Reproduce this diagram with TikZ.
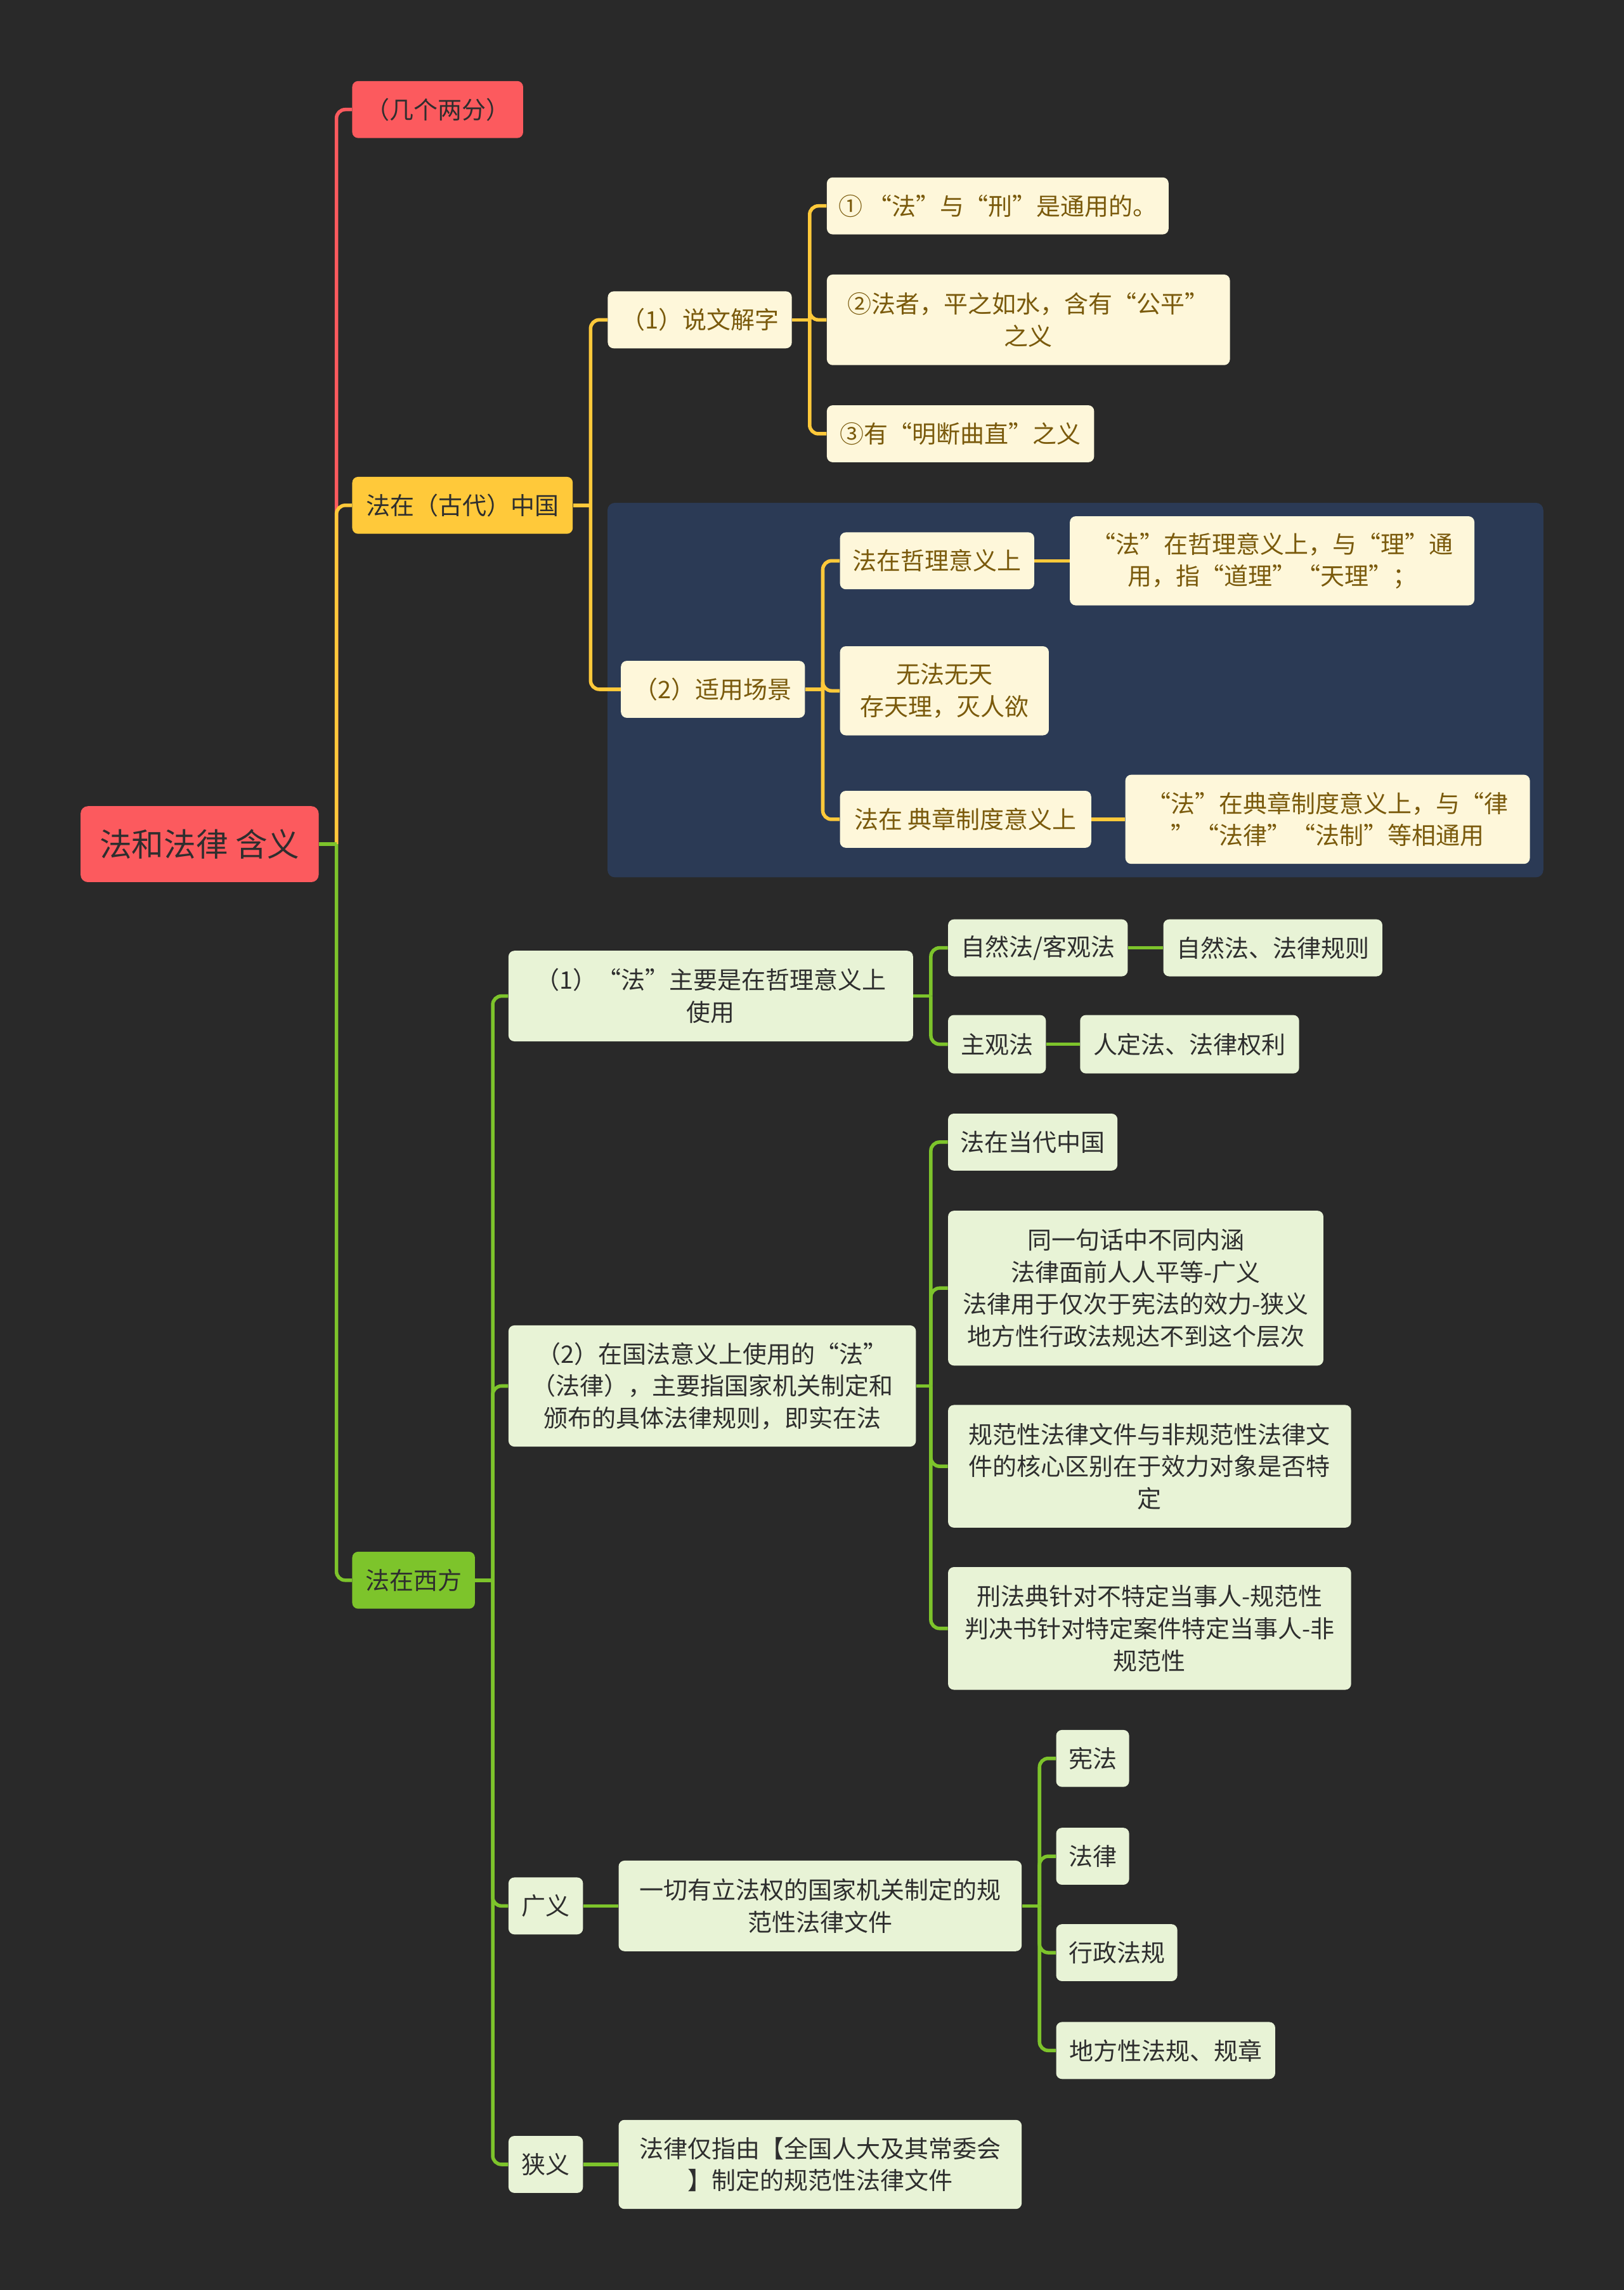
\documentclass[tikz,border=0pt]{standalone}
\usepackage{fontspec}
\setmainfont{Noto Sans CJK SC}
\usepackage{xcolor}
\usepackage{tikz}
\usetikzlibrary{%
  positioning,
  fit,
  backgrounds}
\definecolor{bgdark}{HTML}{292929}
\definecolor{rootred}{HTML}{FC5A5E}
\definecolor{gold}{HTML}{FFC93A}
\definecolor{leafgreen}{HTML}{7DC42B}
\definecolor{cream}{HTML}{FEF7DA}
\definecolor{creamtext}{HTML}{7A5A0C}
\definecolor{mint}{HTML}{E8F3D6}
\definecolor{navy}{HTML}{2B3A55}
\definecolor{inkdark}{HTML}{2E2E2E}
\tikzset{
  %% Central topic
  rootbox/.style={
    rectangle, rounded corners=5pt,
    fill=rootred, text=inkdark,
    align=center, anchor=west, inner sep=0pt,
    minimum height=52pt, font=\fontsize{22}{27}\selectfont},
  %% Main branch boxes
  topicbox/.style={
    rectangle, rounded corners=4pt,
    text=inkdark, align=center, anchor=west, inner sep=0pt,
    minimum height=39pt, font=\fontsize{16.5}{22}\selectfont},
  %% Ancient-China subtopics
  creambox/.style={topicbox, fill=cream, text=creamtext},
  %% Western subtopics
  mintbox/.style={topicbox, fill=mint, text=inkdark},
  %% Highlighted summary zone
  zone/.style={rectangle, rounded corners=5pt, fill=navy, inner sep=9pt},
  %% Connectors
  link/.style={line width=2.4pt, rounded corners=6pt},
}
\begin{document}
\begin{tikzpicture}[x=1pt, y=-1pt]

  \begin{scope}[on background layer]
    \fill[bgdark] (0,0) rectangle (1112,1568);
  \end{scope}
  \useasboundingbox (0,0) rectangle (1112,1568);

  \node[rootbox, minimum width=163pt] (root) at (55,578) {法和法律 含义};

  \node[topicbox, fill=rootred, minimum width=117pt] (jgl) at (241,75) {（几个两分）};
  \node[topicbox, fill=gold, minimum width=151pt] (gdzg) at (241,346) {法在（古代）中国};
  \node[topicbox, fill=leafgreen, minimum width=84pt] (xf) at (241,1082) {法在西方};

  %% Ancient China
  \node[creambox, minimum width=126pt] (swjz) at (416,219) {（1）说文解字};
  \node[creambox, minimum width=126pt] (sycj) at (425,472) {（2）适用场景};

  \node[creambox, minimum width=234pt] (yi) at (566,141) {① “法”与“刑”是通用的。};
  \node[creambox, minimum width=276pt, minimum height=62pt] (er) at (566,219)
        {②法者，平之如水，含有“公平”\\之义};
  \node[creambox, minimum width=183pt] (san) at (566,297) {③有“明断曲直”之义};

  \node[creambox, minimum width=133pt] (zl) at (575,384) {法在哲理意义上};
  \node[creambox, minimum width=277pt, minimum height=61pt, right=24pt of zl] (zld)
        {“法”在哲理意义上，与“理”通\\用，指“道理”“天理”；};
  \node[creambox, minimum width=143pt, minimum height=61pt] (wfwt) at (575,473)
        {无法无天\\存天理，灭人欲};
  \node[creambox, minimum width=172pt] (dz) at (575,561) {法在 典章制度意义上};
  \node[creambox, minimum width=277pt, minimum height=61pt, right=23pt of dz] (dzd)
        {“法”在典章制度意义上，与“律\\”“法律”“法制”等相通用};

  %% West
  \node[mintbox, minimum width=277pt, minimum height=62pt] (zx) at (348,682)
        {（1）“法”主要是在哲理意义上\\使用};
  \node[mintbox, minimum width=279pt, minimum height=83pt] (gf) at (348,949)
        {（2）在国法意义上使用的“法”\\（法律），主要指国家机关制定和\\颁布的具体法律规则，即实在法};
  \node[mintbox, minimum width=51pt] (gy) at (348,1305) {广义};
  \node[mintbox, minimum width=51pt] (xy) at (348,1482) {狭义};

  \node[mintbox, minimum width=123pt] (zrf) at (649,649) {自然法/客观法};
  \node[mintbox, minimum width=150pt, right=24pt of zrf] (zrfd) {自然法、法律规则};
  \node[mintbox, minimum width=67pt, minimum height=40pt] (zgf) at (649,715) {主观法};
  \node[mintbox, minimum width=150pt, minimum height=40pt, right=23pt of zgf] (zgfd)
        {人定法、法律权利};

  \node[mintbox, minimum width=116pt] (ddzg) at (649,782) {法在当代中国};
  \node[mintbox, minimum width=257pt, minimum height=106pt] (tyjh) at (649,882)
        {同一句话中不同内涵\\法律面前人人平等-广义\\法律用于仅次于宪法的效力-狭义\\地方性行政法规达不到这个层次};
  \node[mintbox, minimum width=276pt, minimum height=84pt] (gfx) at (649,1004)
        {规范性法律文件与非规范性法律文\\件的核心区别在于效力对象是否特\\定};
  \node[mintbox, minimum width=276pt, minimum height=84pt] (xfd) at (649,1115)
        {刑法典针对不特定当事人-规范性\\判决书针对特定案件特定当事人-非\\规范性};

  \node[mintbox, minimum width=276pt, minimum height=62pt, right=24pt of gy] (yq)
        {一切有立法权的国家机关制定的规\\范性法律文件};
  \node[mintbox, minimum width=50pt] (xianfa) at (723,1204) {宪法};
  \node[mintbox, minimum width=50pt] (falv) at (723,1271) {法律};
  \node[mintbox, minimum width=83pt] (xzfg) at (723,1337) {行政法规};
  \node[mintbox, minimum width=150pt] (dfx) at (723,1404) {地方性法规、规章};
  \node[mintbox, minimum width=276pt, minimum height=61pt, right=24pt of xy] (zd)
        {法律仅指由【全国人大及其常委会\\】制定的规范性法律文件};

  \begin{scope}[on background layer]
    \node[zone, fit=(sycj)(zld)(dzd)] (zonebox) {};
  \end{scope}

  %% Junctions
  \coordinate (rj) at ([xshift=12pt]root.east);
  \coordinate (gj) at ([xshift=12pt]gdzg.east);
  \coordinate (sj) at ([xshift=12pt]swjz.east);
  \coordinate (cj) at ([xshift=12pt]sycj.east);
  \coordinate (xj) at ([xshift=12pt]xf.east);
  \coordinate (zj) at ([xshift=12pt]zx.east);
  \coordinate (fj) at ([xshift=10pt]gf.east);
  \coordinate (yj) at ([xshift=12pt]yq.east);

  %% Root branches
  \draw[link, rootred] (rj) |- (jgl.west);
  \draw[link, gold] (rj) |- (gdzg.west);
  \draw[link, leafgreen] (rj) |- (xf.west);
  \draw[link, leafgreen] (root.east) -- (rj);

  %% Ancient China branches
  \draw[link, gold] (gdzg.east) -- (gj);
  \draw[link, gold] (gj) |- (swjz.west);
  \draw[link, gold] (gj) |- (sycj.west);
  \draw[link, gold] (swjz.east) -- (sj);
  \draw[link, gold] (sj) |- (yi.west);
  \draw[link, gold] (sj) |- (er.west);
  \draw[link, gold] (sj) |- (san.west);
  \draw[link, gold] (sycj.east) -- (cj);
  \draw[link, gold] (cj) |- (zl.west);
  \draw[link, gold] (cj) |- (wfwt.west);
  \draw[link, gold] (cj) |- (dz.west);
  \draw[link, gold] (zl) -- (zld);
  \draw[link, gold] (dz) -- (dzd);

  %% West branches
  \draw[link, leafgreen] (xf.east) -- (xj);
  \draw[link, leafgreen] (xj) |- (zx.west);
  \draw[link, leafgreen] (xj) |- (gf.west);
  \draw[link, leafgreen] (xj) |- (gy.west);
  \draw[link, leafgreen] (xj) |- (xy.west);
  \draw[link, leafgreen] (zx.east) -- (zj);
  \draw[link, leafgreen] (zj) |- (zrf.west);
  \draw[link, leafgreen] (zj) |- (zgf.west);
  \draw[link, leafgreen] (zrf) -- (zrfd);
  \draw[link, leafgreen] (zgf) -- (zgfd);
  \draw[link, leafgreen] (gf.east) -- (fj);
  \draw[link, leafgreen] (fj) |- (ddzg.west);
  \draw[link, leafgreen] (fj) |- (tyjh.west);
  \draw[link, leafgreen] (fj) |- (gfx.west);
  \draw[link, leafgreen] (fj) |- (xfd.west);
  \draw[link, leafgreen] (gy) -- (yq);
  \draw[link, leafgreen] (yq.east) -- (yj);
  \draw[link, leafgreen] (yj) |- (xianfa.west);
  \draw[link, leafgreen] (yj) |- (falv.west);
  \draw[link, leafgreen] (yj) |- (xzfg.west);
  \draw[link, leafgreen] (yj) |- (dfx.west);
  \draw[link, leafgreen] (xy) -- (zd);

\end{tikzpicture}
\end{document}
